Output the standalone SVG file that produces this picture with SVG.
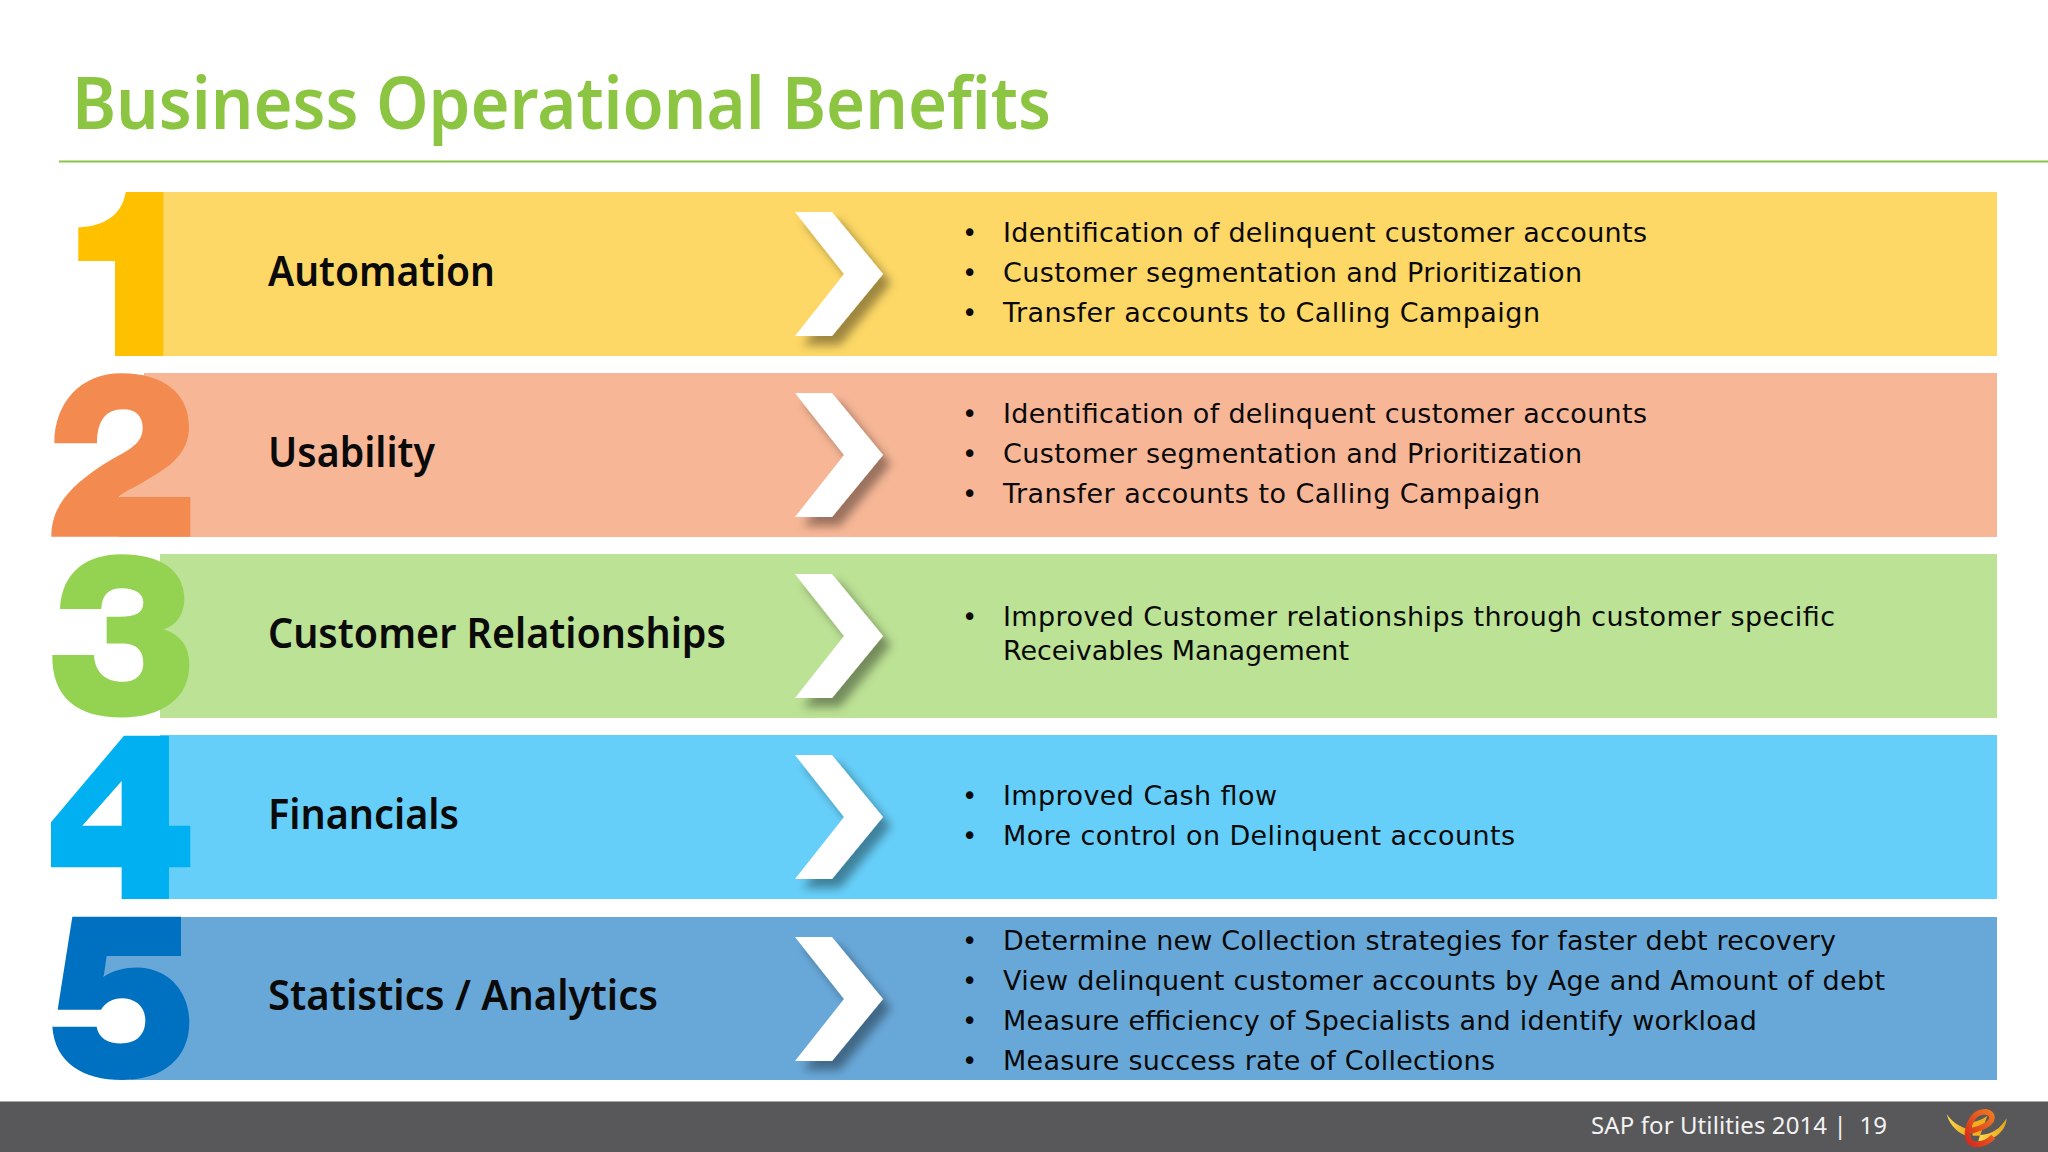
<svg xmlns="http://www.w3.org/2000/svg" width="2048" height="1152" viewBox="0 0 2048 1152">
<style>
.lbl{font-family:"Noto Sans","Open Sans",sans-serif;font-weight:600;font-size:42px;fill:#0a0a0a}
.b{font-family:"DejaVu Sans",sans-serif;font-size:27px;fill:#0a0a0a}
.d{font-family:"DejaVu Sans",sans-serif;font-size:26px;fill:#0a0a0a}
.title{font-family:"Noto Sans","Open Sans",sans-serif;font-weight:600;font-size:72px;fill:#8CC542}
.foot{font-family:"Noto Sans",sans-serif;font-size:24px;fill:#f2f2f2}
.chev{fill:#fff;filter:url(#sh)}
</style>
<defs>
<filter id="sh" x="-30%" y="-30%" width="170%" height="170%"><feDropShadow dx="8" dy="9" stdDeviation="5" flood-color="#000" flood-opacity=".38"/></filter>
<polygon id="chevron" class="chev" points="795,212 832,212 883,274 832,336 795,336 844,274"/>
<linearGradient id="wing" x1="0" y1="0" x2="1" y2="0"><stop offset="0" stop-color="#FFD94A"/><stop offset="1" stop-color="#E8A21C"/></linearGradient>
<linearGradient id="ering" x1="1" y1="0" x2="0" y2="1"><stop offset="0" stop-color="#F07A1E"/><stop offset="1" stop-color="#D6271C"/></linearGradient>
</defs>
<rect width="2048" height="1152" fill="#fff"/>
<text class="title" x="72" y="129" textLength="979" lengthAdjust="spacingAndGlyphs">Business Operational Benefits</text>
<rect x="59" y="160.5" width="1989" height="2" fill="#8BC34A"/>
<g id="row1">
<rect x="150" y="192" width="1847" height="164" fill="#FDD866"/>
<path d="M125.7 192H163.3V356H115V261H78.3V227.5C105 226 122 215 125.7 192Z" fill="#FFC000"/>
<text class="lbl" x="268" y="286" textLength="227" lengthAdjust="spacingAndGlyphs">Automation</text>
<use href="#chevron"/>
<text class="d" x="962" y="241.5">•</text><text class="d" x="962" y="281.5">•</text><text class="d" x="962" y="321.5">•</text>
<text class="b" x="1003" y="241.5" textLength="644">Identification of delinquent customer accounts</text>
<text class="b" x="1003" y="281.5" textLength="579">Customer segmentation and Prioritization</text>
<text class="b" x="1003" y="321.5" textLength="537">Transfer accounts to Calling Campaign</text>
</g>
<g id="row2">
<path d="M144 373V450L119 498V537H1997V373Z" fill="#F7B797"/>
<path transform="translate(0 170) scale(.3333)" d="M163 820C163 700 240 610 365 610C490 610 567 670 567 770C567 850 510 890 440 930C400 955 370 965 357 981H571V1100H154C154 1010 210 950 300 890C370 845 428 830 428 775C428 735 405 718 368 718C320 718 291 750 291 820Z" fill="#F38B50"/>
<text class="lbl" x="268" y="467" textLength="167" lengthAdjust="spacingAndGlyphs">Usability</text>
<use href="#chevron" y="181"/>
<text class="d" x="962" y="422.5">•</text><text class="d" x="962" y="462.5">•</text><text class="d" x="962" y="502.5">•</text>
<text class="b" x="1003" y="422.5" textLength="644">Identification of delinquent customer accounts</text>
<text class="b" x="1003" y="462.5" textLength="579">Customer segmentation and Prioritization</text>
<text class="b" x="1003" y="502.5" textLength="537">Transfer accounts to Calling Campaign</text>
</g>
<g id="row3">
<rect x="160" y="554" width="1837" height="164" fill="#BCE295"/>
<path transform="translate(0 540) scale(.3333 .35714)" d="M180 193C185 90 260 40 365 40C480 40 553 85 553 165C553 205 530 240 490 250C540 265 568 295 568 350C568 440 490 497 365 497C230 497 155 440 157 322H282C285 370 315 397 368 397C410 397 430 375 430 345C430 305 405 290 365 290H320V215H360C405 215 430 205 430 175C430 150 405 135 365 135C325 135 305 155 304 193Z" fill="#94D251"/>
<text class="lbl" x="268" y="648" textLength="458" lengthAdjust="spacingAndGlyphs">Customer Relationships</text>
<use href="#chevron" y="362"/>
<text class="d" x="962" y="626">•</text>
<text class="b" x="1003" y="626" textLength="832">Improved Customer relationships through customer specific</text>
<text class="b" x="1003" y="660" textLength="346">Receivables Management</text>
</g>
<g id="row4">
<rect x="160" y="735" width="1837" height="164" fill="#66CFF9"/>
<path transform="translate(0 540) scale(.3333 .35714)" fill-rule="evenodd" d="M372 548H507V800H571V916H507V1005H365V916H153V790ZM365 675L247 800H365Z" fill="#00B0F0"/>
<text class="lbl" x="268" y="829" textLength="191" lengthAdjust="spacingAndGlyphs">Financials</text>
<use href="#chevron" y="543"/>
<text class="d" x="962" y="805">•</text><text class="d" x="962" y="845">•</text>
<text class="b" x="1003" y="805" textLength="274">Improved Cash flow</text>
<text class="b" x="1003" y="845" textLength="512">More control on Delinquent accounts</text>
</g>
<g id="row5">
<path d="M170 917V950H104V977L154 1010V1060L130 1080H1997V917Z" fill="#68A8D9"/>
<path transform="translate(0 540) scale(.3333 .35714)" d="M217 1055H543V1165H320L311 1223C340 1205 375 1197 410 1197C505 1197 568 1265 568 1350C568 1450 490 1512 365 1512C250 1512 165 1465 157 1363H290C295 1395 325 1410 362 1410C410 1410 436 1385 436 1345C436 1305 405 1283 365 1283C340 1283 315 1295 303 1315H173Z" fill="#0070C0"/>
<text class="lbl" x="268" y="1010" textLength="390" lengthAdjust="spacingAndGlyphs">Statistics / Analytics</text>
<use href="#chevron" y="725"/>
<text class="d" x="962" y="950">•</text><text class="d" x="962" y="990">•</text><text class="d" x="962" y="1030">•</text><text class="d" x="962" y="1070">•</text>
<text class="b" x="1003" y="950" textLength="833">Determine new Collection strategies for faster debt recovery</text>
<text class="b" x="1003" y="990" textLength="882">View delinquent customer accounts by Age and Amount of debt</text>
<text class="b" x="1003" y="1030" textLength="754">Measure efficiency of Specialists and identify workload</text>
<text class="b" x="1003" y="1070" textLength="492">Measure success rate of Collections</text>
</g>
<g id="footer">
<rect y="1101.5" width="2048" height="50.5" fill="#58585A"/>
<text class="foot" x="1591" y="1134" xml:space="preserve" textLength="296">SAP for Utilities 2014 |  19</text>
<g id="logo" transform="translate(1930 1095) scale(.3333)">
<path d="M50 58C70 85 95 100 125 104L116 124C88 118 60 95 50 58Z" fill="url(#wing)"/>
<path d="M230 70C228 108 192 140 145 138L150 120C185 120 212 100 230 70Z" fill="url(#wing)"/>
<path d="M125 82C145 78 160 72 172 62L150 122H128Z" fill="#F2B01E"/>
<path d="M122 108C155 100 192 85 185 62C180 45 140 45 125 75C105 110 110 145 135 148C160 150 180 135 190 125" fill="none" stroke="url(#ering)" stroke-width="17"/>
</g>
</g>
</svg>
